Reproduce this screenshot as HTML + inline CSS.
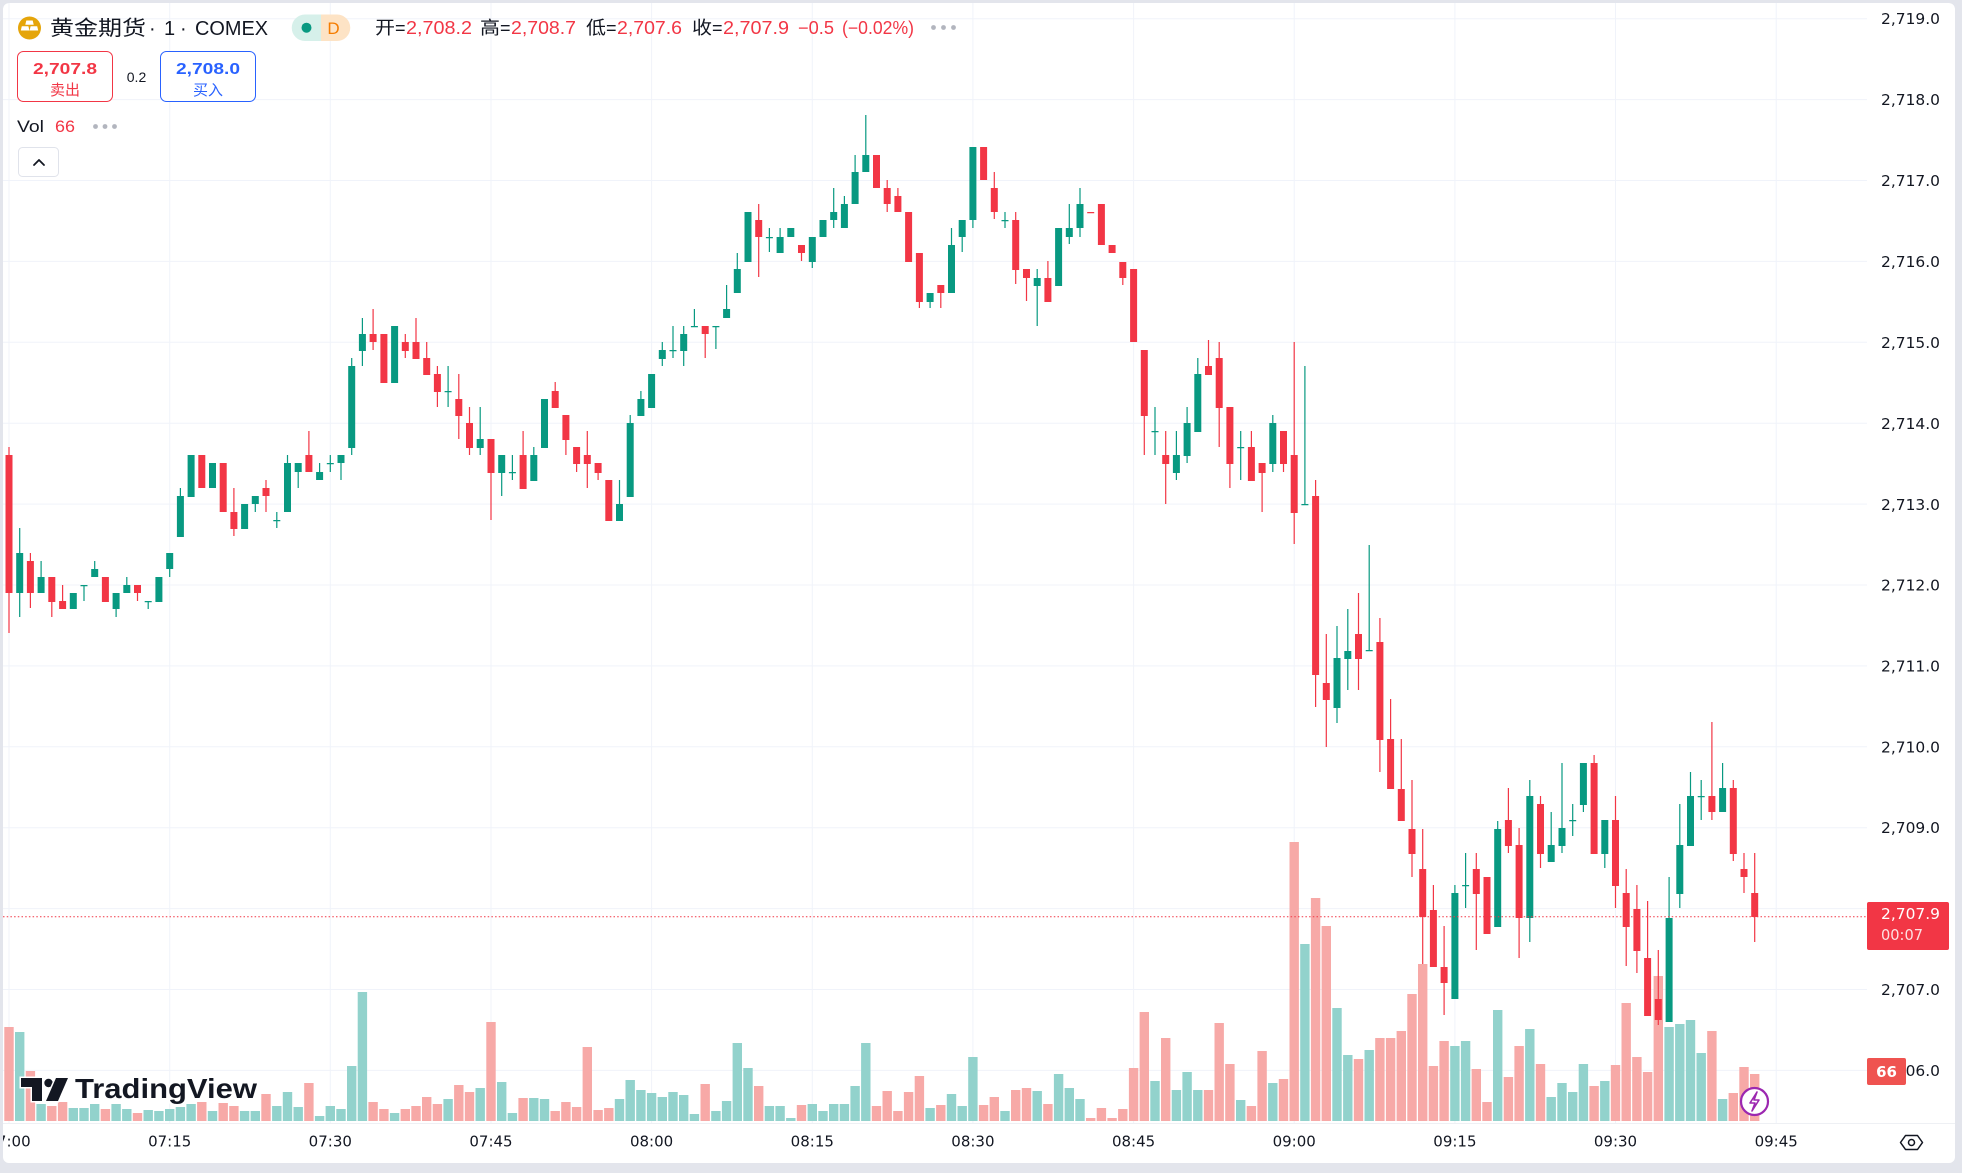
<!DOCTYPE html>
<html><head><meta charset="utf-8"><style>
html,body{margin:0;padding:0;background:#e3e5ec;}
svg{display:block}
</style></head><body>
<svg width="1962" height="1173" viewBox="0 0 1962 1173" xmlns="http://www.w3.org/2000/svg">
<defs><clipPath id="cp"><rect x="3" y="3" width="1864" height="1120"/></clipPath></defs>
<rect x="0" y="0" width="1962" height="1173" fill="#e3e5ec"/>
<rect x="3" y="3" width="1952" height="1160" rx="6" fill="#ffffff"/>
<g stroke="#f0f3fa" stroke-width="1">
<path d="M3 18.7H1867M3 99.6H1867M3 180.5H1867M3 261.4H1867M3 342.3H1867M3 423.2H1867M3 504.1H1867M3 585H1867M3 665.9H1867M3 746.8H1867M3 827.7H1867M3 908.6H1867M3 989.5H1867M3 1070.4H1867"/>
<path d="M9 3V1123M169.7 3V1123M330.3 3V1123M491 3V1123M651.6 3V1123M812.3 3V1123M972.9 3V1123M1133.6 3V1123M1294.2 3V1123M1454.9 3V1123M1615.5 3V1123M1776.2 3V1123"/>
</g>
<g clip-path="url(#cp)">
<path fill="#92d2cc" d="M15 1032h9.4V1121h-9.4zM36.4 1104h9.4V1121h-9.4zM68.6 1108h9.4V1121h-9.4zM79.3 1108h9.4V1121h-9.4zM90 1104h9.4V1121h-9.4zM111.4 1104h9.4V1121h-9.4zM122.1 1109h9.4V1121h-9.4zM143.5 1110h9.4V1121h-9.4zM154.2 1111h9.4V1121h-9.4zM165 1109h9.4V1121h-9.4zM175.7 1107h9.4V1121h-9.4zM186.4 1104h9.4V1121h-9.4zM207.8 1111h9.4V1121h-9.4zM239.9 1111h9.4V1121h-9.4zM250.6 1111h9.4V1121h-9.4zM272.1 1106h9.4V1121h-9.4zM282.8 1092h9.4V1121h-9.4zM293.5 1107h9.4V1121h-9.4zM314.9 1116h9.4V1121h-9.4zM325.6 1106h9.4V1121h-9.4zM336.3 1109h9.4V1121h-9.4zM347 1066h9.4V1121h-9.4zM357.7 992h9.4V1121h-9.4zM389.9 1113h9.4V1121h-9.4zM443.4 1099h9.4V1121h-9.4zM475.5 1088h9.4V1121h-9.4zM497 1082h9.4V1121h-9.4zM507.7 1113h9.4V1121h-9.4zM529.1 1098h9.4V1121h-9.4zM539.8 1099h9.4V1121h-9.4zM614.8 1099h9.4V1121h-9.4zM625.5 1080h9.4V1121h-9.4zM636.2 1090h9.4V1121h-9.4zM646.9 1093h9.4V1121h-9.4zM657.6 1097h9.4V1121h-9.4zM668.3 1092h9.4V1121h-9.4zM679 1095h9.4V1121h-9.4zM689.7 1114h9.4V1121h-9.4zM711.2 1111h9.4V1121h-9.4zM721.9 1101h9.4V1121h-9.4zM732.6 1043h9.4V1121h-9.4zM743.3 1068h9.4V1121h-9.4zM764.7 1106h9.4V1121h-9.4zM775.4 1106h9.4V1121h-9.4zM786.1 1118h9.4V1121h-9.4zM807.6 1104h9.4V1121h-9.4zM818.3 1111h9.4V1121h-9.4zM829 1104h9.4V1121h-9.4zM839.7 1104h9.4V1121h-9.4zM850.4 1086h9.4V1121h-9.4zM861.1 1043h9.4V1121h-9.4zM925.4 1108h9.4V1121h-9.4zM946.8 1094h9.4V1121h-9.4zM957.5 1106h9.4V1121h-9.4zM968.2 1057h9.4V1121h-9.4zM1000.3 1111h9.4V1121h-9.4zM1032.5 1091h9.4V1121h-9.4zM1053.9 1074h9.4V1121h-9.4zM1064.6 1088h9.4V1121h-9.4zM1075.3 1099h9.4V1121h-9.4zM1150.3 1081h9.4V1121h-9.4zM1171.7 1090h9.4V1121h-9.4zM1182.4 1072h9.4V1121h-9.4zM1193.1 1090h9.4V1121h-9.4zM1236 1100h9.4V1121h-9.4zM1268.1 1083h9.4V1121h-9.4zM1300.2 944h9.4V1121h-9.4zM1332.3 1008h9.4V1121h-9.4zM1343.1 1055h9.4V1121h-9.4zM1364.5 1050h9.4V1121h-9.4zM1450.2 1046h9.4V1121h-9.4zM1460.9 1041h9.4V1121h-9.4zM1493 1010h9.4V1121h-9.4zM1525.1 1029h9.4V1121h-9.4zM1546.5 1097h9.4V1121h-9.4zM1557.3 1083h9.4V1121h-9.4zM1568 1092h9.4V1121h-9.4zM1578.7 1064h9.4V1121h-9.4zM1600.1 1081h9.4V1121h-9.4zM1664.4 1027h9.4V1121h-9.4zM1675.1 1024h9.4V1121h-9.4zM1685.8 1020h9.4V1121h-9.4zM1696.5 1053h9.4V1121h-9.4zM1717.9 1099h9.4V1121h-9.4z"/>
<path fill="#f7a9a7" d="M4.3 1027h9.4V1121h-9.4zM25.7 1071h9.4V1121h-9.4zM47.1 1106h9.4V1121h-9.4zM57.9 1102h9.4V1121h-9.4zM100.7 1109h9.4V1121h-9.4zM132.8 1113h9.4V1121h-9.4zM197.1 1102h9.4V1121h-9.4zM218.5 1103h9.4V1121h-9.4zM229.2 1106h9.4V1121h-9.4zM261.3 1094h9.4V1121h-9.4zM304.2 1083h9.4V1121h-9.4zM368.4 1102h9.4V1121h-9.4zM379.2 1109h9.4V1121h-9.4zM400.6 1109h9.4V1121h-9.4zM411.3 1106h9.4V1121h-9.4zM422 1097h9.4V1121h-9.4zM432.7 1104h9.4V1121h-9.4zM454.1 1085h9.4V1121h-9.4zM464.8 1092h9.4V1121h-9.4zM486.3 1022h9.4V1121h-9.4zM518.4 1098h9.4V1121h-9.4zM550.5 1111h9.4V1121h-9.4zM561.2 1102h9.4V1121h-9.4zM571.9 1107h9.4V1121h-9.4zM582.6 1047h9.4V1121h-9.4zM593.4 1110h9.4V1121h-9.4zM604.1 1108h9.4V1121h-9.4zM700.5 1084h9.4V1121h-9.4zM754 1086h9.4V1121h-9.4zM796.8 1105h9.4V1121h-9.4zM871.8 1106h9.4V1121h-9.4zM882.5 1091h9.4V1121h-9.4zM893.2 1111h9.4V1121h-9.4zM903.9 1092h9.4V1121h-9.4zM914.7 1076h9.4V1121h-9.4zM936.1 1105h9.4V1121h-9.4zM978.9 1105h9.4V1121h-9.4zM989.6 1097h9.4V1121h-9.4zM1011 1090h9.4V1121h-9.4zM1021.8 1088h9.4V1121h-9.4zM1043.2 1104h9.4V1121h-9.4zM1086 1118h9.4V1121h-9.4zM1096.7 1108h9.4V1121h-9.4zM1107.4 1118h9.4V1121h-9.4zM1118.1 1109h9.4V1121h-9.4zM1128.9 1068h9.4V1121h-9.4zM1139.6 1012h9.4V1121h-9.4zM1161 1038h9.4V1121h-9.4zM1203.8 1090h9.4V1121h-9.4zM1214.5 1023h9.4V1121h-9.4zM1225.2 1064h9.4V1121h-9.4zM1246.7 1106h9.4V1121h-9.4zM1257.4 1051h9.4V1121h-9.4zM1278.8 1079h9.4V1121h-9.4zM1289.5 842h9.4V1121h-9.4zM1310.9 898h9.4V1121h-9.4zM1321.6 926h9.4V1121h-9.4zM1353.8 1059h9.4V1121h-9.4zM1375.2 1038h9.4V1121h-9.4zM1385.9 1038h9.4V1121h-9.4zM1396.6 1031h9.4V1121h-9.4zM1407.3 994h9.4V1121h-9.4zM1418 964h9.4V1121h-9.4zM1428.7 1066h9.4V1121h-9.4zM1439.4 1041h9.4V1121h-9.4zM1471.6 1069h9.4V1121h-9.4zM1482.3 1102h9.4V1121h-9.4zM1503.7 1077h9.4V1121h-9.4zM1514.4 1046h9.4V1121h-9.4zM1535.8 1064h9.4V1121h-9.4zM1589.4 1086h9.4V1121h-9.4zM1610.8 1065h9.4V1121h-9.4zM1621.5 1003h9.4V1121h-9.4zM1632.2 1057h9.4V1121h-9.4zM1642.9 1072h9.4V1121h-9.4zM1653.6 976h9.4V1121h-9.4zM1707.2 1031h9.4V1121h-9.4zM1728.6 1093h9.4V1121h-9.4zM1739.3 1067h9.4V1121h-9.4zM1750 1074h9.4V1121h-9.4z"/>
<!-- TradingView logo -->
<g>
<path fill="#131722" stroke="#ffffff" stroke-width="3" paint-order="stroke" d="M21 1078h21v23h-10v-14h-11z"/>
<circle cx="48.5" cy="1083" r="4.2" fill="#131722" stroke="#ffffff" stroke-width="3" paint-order="stroke"/>
<path fill="#131722" stroke="#ffffff" stroke-width="3" paint-order="stroke" d="M56 1078h12l-10 23h-12z"/>
<text x="75" y="1098" font-family="Liberation Sans, sans-serif" font-weight="bold" font-size="28" textLength="182" lengthAdjust="spacingAndGlyphs" fill="#131722" stroke="#ffffff" stroke-width="4" paint-order="stroke" stroke-linejoin="round">TradingView</text>
</g>
<!-- green wicks -->
<path fill="none" stroke="#089981" stroke-width="1.2" d="M19.7 528V617M41.1 561V593M73.3 593V609M84 585V601M94.7 561V577M116.1 593V617M126.8 577V593M148.2 601V609M158.9 577V602M169.7 553V577M180.4 488V537M191.1 455V497M212.5 463V488M244.6 504V529M255.3 496V512M276.8 512V528M287.5 455V512M298.2 463V488M319.6 463V480M330.3 455V472M341 455V480M351.7 358V455M362.4 318V366M394.6 326V383M448.1 366V407M480.2 407V455M501.7 455V496M512.4 455V480M533.8 447V481M544.5 399V448M619.5 480V521M630.2 415V497M640.9 391V416M651.6 374V408M662.3 342V366M673 326V358M683.7 326V366M694.4 309V327M715.9 326V349M726.6 285V318M737.3 253V293M748 212V262M769.4 228V252M780.1 228V253M790.8 228V237M812.3 237V268M823 220V237M833.7 188V228M844.4 196V228M855.1 155V204M865.8 115V172M930.1 293V308M951.5 228V293M962.2 220V252M972.9 147V228M1005 212V228M1037.2 269V326M1058.6 228V286M1069.3 204V244M1080 188V237M1155 407V455M1176.4 431V480M1187.1 407V463M1197.8 358V432M1240.7 431V480M1272.8 415V472M1304.9 366V505M1337 626V723M1347.8 609V690M1369.2 545V651M1454.9 885V999M1465.6 853V908M1497.7 821V927M1529.8 780V942M1551.2 812V862M1562 763V853M1572.7 804V836M1583.4 763V812M1604.8 820V868M1669.1 877V1022M1679.8 804V908M1690.5 772V846M1701.2 780V820M1722.6 763V812"/>
<path fill="#089981" d="M16.2 553h7V593h-7zM37.6 577h7V593h-7zM69.8 593h7V609h-7zM80.5 585h7V586.2h-7zM91.2 569h7V577h-7zM112.6 593h7V609h-7zM123.3 585h7V593h-7zM144.7 601h7V602.2h-7zM155.4 577h7V602h-7zM166.2 553h7V569h-7zM176.9 496h7V537h-7zM187.6 455h7V497h-7zM209 463h7V488h-7zM241.1 504h7V529h-7zM251.8 496h7V504h-7zM273.3 520h7V521.2h-7zM284 463h7V512h-7zM294.7 463h7V472h-7zM316.1 472h7V480h-7zM326.8 463h7V464.2h-7zM337.5 455h7V463h-7zM348.2 366h7V448h-7zM358.9 334h7V351h-7zM391.1 326h7V383h-7zM444.6 391h7V392.2h-7zM476.7 439h7V448h-7zM498.2 455h7V473h-7zM508.9 472h7V473.2h-7zM530.3 455h7V481h-7zM541 399h7V448h-7zM616 504h7V521h-7zM626.7 423h7V497h-7zM637.4 399h7V416h-7zM648.1 374h7V408h-7zM658.8 350h7V359h-7zM669.5 350h7V351.2h-7zM680.2 334h7V351h-7zM690.9 326h7V327.2h-7zM712.4 326h7V327.2h-7zM723.1 309h7V318h-7zM733.8 269h7V293h-7zM744.5 212h7V262h-7zM765.9 237h7V238.2h-7zM776.6 237h7V253h-7zM787.3 228h7V237h-7zM808.8 237h7V262h-7zM819.5 220h7V237h-7zM830.2 212h7V220h-7zM840.9 204h7V228h-7zM851.6 172h7V204h-7zM862.3 155h7V172h-7zM926.6 293h7V302h-7zM948 245h7V293h-7zM958.7 220h7V237h-7zM969.4 147h7V220h-7zM1001.5 220h7V221.2h-7zM1033.7 278h7V286h-7zM1055.1 228h7V286h-7zM1065.8 228h7V237h-7zM1076.5 204h7V228h-7zM1151.5 431h7V432.2h-7zM1172.9 455h7V473h-7zM1183.6 423h7V456h-7zM1194.3 374h7V432h-7zM1237.2 447h7V448.2h-7zM1269.3 423h7V464h-7zM1301.4 504h7V505.2h-7zM1333.5 658h7V708h-7zM1344.3 651h7V659h-7zM1365.7 650h7V651.2h-7zM1451.4 893h7V999h-7zM1462.1 885h7V886.2h-7zM1494.2 829h7V927h-7zM1526.3 796h7V918h-7zM1547.7 845h7V862h-7zM1558.5 828h7V846h-7zM1569.2 820h7V821.2h-7zM1579.9 763h7V805h-7zM1601.3 820h7V854h-7zM1665.6 918h7V1022h-7zM1676.3 845h7V894h-7zM1687 796h7V846h-7zM1697.7 796h7V797.2h-7zM1719.1 788h7V812h-7z"/>
<!-- red wicks -->
<path fill="none" stroke="#f23645" stroke-width="1.2" d="M9 447V633M30.4 553V608M51.8 577V617M62.6 585V609M105.4 577V602M137.5 585V601M201.8 455V488M223.2 463V512M233.9 488V536M266 480V512M308.9 431V472M373.1 309V350M383.9 334V383M405.3 334V358M416 318V359M426.7 342V375M437.4 366V407M458.8 374V439M469.5 407V455M491 439V520M523.1 431V489M555.2 382V408M565.9 415V455M576.6 447V472M587.3 431V488M598.1 463V480M608.8 480V521M705.2 326V358M758.7 204V277M801.5 245V261M876.5 155V188M887.2 180V212M897.9 188V212M908.6 212V262M919.4 253V308M940.8 285V308M983.6 147V180M994.3 172V219M1015.7 212V284M1026.5 269V301M1047.9 261V302M1101.4 204V245M1112.1 245V253M1122.8 262V285M1133.6 269V342M1144.3 350V455M1165.7 431V504M1208.5 340V375M1219.2 342V447M1229.9 407V488M1251.4 431V481M1262.1 463V512M1283.5 431V472M1294.2 342V544M1315.6 480V707M1326.3 634V747M1358.5 593V690M1379.9 618V772M1390.6 699V789M1401.3 739V821M1412 780V877M1422.7 829V964M1433.4 885V967M1444.1 926V1015M1476.3 853V950M1487 877V934M1508.4 788V853M1519.1 828V958M1540.5 796V868M1594.1 755V854M1615.5 796V908M1626.2 869V966M1636.9 885V973M1647.6 901V1016M1658.3 950V1025M1711.9 722V820M1733.3 780V861M1744 853V893M1754.7 853V942"/>
<path fill="#f23645" d="M5.5 455h7V593h-7zM26.9 561h7V593h-7zM48.3 577h7V602h-7zM59.1 601h7V609h-7zM101.9 577h7V602h-7zM134 585h7V593h-7zM198.3 455h7V488h-7zM219.7 463h7V512h-7zM230.4 512h7V529h-7zM262.5 488h7V496h-7zM305.4 455h7V472h-7zM369.6 334h7V342h-7zM380.4 334h7V383h-7zM401.8 342h7V351h-7zM412.5 342h7V359h-7zM423.2 358h7V375h-7zM433.9 374h7V392h-7zM455.3 399h7V416h-7zM466 423h7V448h-7zM487.5 439h7V473h-7zM519.6 455h7V489h-7zM551.7 391h7V408h-7zM562.4 415h7V440h-7zM573.1 447h7V464h-7zM583.8 455h7V464h-7zM594.6 463h7V473h-7zM605.3 480h7V521h-7zM701.7 326h7V334h-7zM755.2 220h7V237h-7zM798 245h7V253h-7zM873 155h7V188h-7zM883.7 188h7V204h-7zM894.4 196h7V212h-7zM905.1 212h7V262h-7zM915.9 253h7V302h-7zM937.3 285h7V293h-7zM980.1 147h7V180h-7zM990.8 188h7V212h-7zM1012.2 220h7V270h-7zM1023 269h7V278h-7zM1044.4 278h7V302h-7zM1087.2 212h7V213.2h-7zM1097.9 204h7V245h-7zM1108.6 245h7V253h-7zM1119.3 262h7V278h-7zM1130.1 269h7V342h-7zM1140.8 350h7V416h-7zM1162.2 455h7V464h-7zM1205 366h7V375h-7zM1215.7 358h7V408h-7zM1226.4 407h7V464h-7zM1247.9 447h7V481h-7zM1258.6 463h7V473h-7zM1280 431h7V464h-7zM1290.7 455h7V513h-7zM1312.1 496h7V675h-7zM1322.8 683h7V700h-7zM1355 634h7V659h-7zM1376.4 642h7V740h-7zM1387.1 739h7V789h-7zM1397.8 789h7V821h-7zM1408.5 829h7V854h-7zM1419.2 869h7V917h-7zM1429.9 910h7V967h-7zM1440.6 967h7V983h-7zM1472.8 869h7V894h-7zM1483.5 877h7V934h-7zM1504.9 820h7V846h-7zM1515.6 845h7V918h-7zM1537 804h7V854h-7zM1590.6 763h7V854h-7zM1612 820h7V886h-7zM1622.7 893h7V927h-7zM1633.4 909h7V951h-7zM1644.1 958h7V1016h-7zM1654.8 999h7V1020h-7zM1708.4 796h7V812h-7zM1729.8 788h7V854h-7zM1740.5 869h7V877h-7zM1751.2 893h7V917h-7z"/>
<!-- current price line -->
<path d="M3 916.7H1867" stroke="#f23645" stroke-width="1" stroke-dasharray="1.5 2.2"/>
<!-- lightning icon -->
<circle cx="1754.5" cy="1101.5" r="13.5" fill="#ffffff" stroke="#9c27b0" stroke-width="2.2"/>
<path d="M1757 1092l-7 11h5l-3 8 7-11h-5z" fill="none" stroke="#9c27b0" stroke-width="1.6" stroke-linejoin="round"/>
</g>
<!-- header -->
<g font-family="Liberation Sans, Noto Sans CJK SC, sans-serif">
<circle cx="29.5" cy="28" r="11.5" fill="#e5a50a"/>
<path fill="#ffffff" d="M26.3 20.5h6.4l1 4.2h-8.4zM21.8 26.2h6.6l1 4.3h-8.6zM30.6 26.2h6.6l1 4.3h-8.6z"/>
<text x="50" y="35" font-size="20.5" fill="#131722" textLength="96" lengthAdjust="spacingAndGlyphs">黄金期货</text>
<text x="149" y="35" font-size="20" fill="#131722">·</text>
<text x="164" y="35" font-size="20" fill="#131722">1</text>
<text x="180" y="35" font-size="20" fill="#131722">·</text>
<text x="195" y="35" font-size="20" fill="#131722" textLength="73" lengthAdjust="spacingAndGlyphs">COMEX</text>
<path d="M305 14.5h16v26.5h-16a13.25 13.25 0 0 1 0-26.5z" fill="#d6f0ea"/>
<path d="M321 14.5h16a13.25 13.25 0 0 1 0 26.5h-16z" fill="#fde3c5"/>
<circle cx="306.5" cy="27.7" r="5" fill="#089981"/>
<text x="333.5" y="34" font-size="17" fill="#f57c00" text-anchor="middle">D</text>
<g font-size="18">
<text x="375" y="34" fill="#131722" textLength="20" lengthAdjust="spacingAndGlyphs">开</text>
<text x="395" y="34" fill="#131722">=</text>
<text x="406" y="34" fill="#f23645" textLength="66" lengthAdjust="spacingAndGlyphs">2,708.2</text>
<text x="480" y="34" fill="#131722" textLength="20" lengthAdjust="spacingAndGlyphs">高</text>
<text x="500" y="34" fill="#131722">=</text>
<text x="511" y="34" fill="#f23645" textLength="65" lengthAdjust="spacingAndGlyphs">2,708.7</text>
<text x="586" y="34" fill="#131722" textLength="20" lengthAdjust="spacingAndGlyphs">低</text>
<text x="606" y="34" fill="#131722">=</text>
<text x="617" y="34" fill="#f23645" textLength="65" lengthAdjust="spacingAndGlyphs">2,707.6</text>
<text x="692" y="34" fill="#131722" textLength="20" lengthAdjust="spacingAndGlyphs">收</text>
<text x="712" y="34" fill="#131722">=</text>
<text x="723" y="34" fill="#f23645" textLength="66" lengthAdjust="spacingAndGlyphs">2,707.9</text>
<text x="798" y="34" fill="#f23645" textLength="36" lengthAdjust="spacingAndGlyphs">−0.5</text>
<text x="842" y="34" fill="#f23645" textLength="72" lengthAdjust="spacingAndGlyphs">(−0.02%)</text>
</g>
<g fill="#b2b5be"><circle cx="933.5" cy="27.5" r="2.4"/><circle cx="943.5" cy="27.5" r="2.4"/><circle cx="953.5" cy="27.5" r="2.4"/></g>
<rect x="17.5" y="51.5" width="95" height="50" rx="6" fill="#ffffff" stroke="#f23645" stroke-width="1"/>
<text x="65" y="74" font-size="16" font-weight="bold" fill="#f23645" text-anchor="middle" textLength="64" lengthAdjust="spacingAndGlyphs">2,707.8</text>
<text x="65" y="95" font-size="15" fill="#f23645" text-anchor="middle">卖出</text>
<text x="136.5" y="82" font-size="14" fill="#131722" text-anchor="middle">0.2</text>
<rect x="160.5" y="51.5" width="95" height="50" rx="6" fill="#ffffff" stroke="#2962ff" stroke-width="1"/>
<text x="208" y="74" font-size="16" font-weight="bold" fill="#2962ff" text-anchor="middle" textLength="64" lengthAdjust="spacingAndGlyphs">2,708.0</text>
<text x="208" y="95" font-size="15" fill="#2962ff" text-anchor="middle">买入</text>
<text x="17" y="132" font-size="17" fill="#131722" textLength="27" lengthAdjust="spacingAndGlyphs">Vol</text>
<text x="55" y="132" font-size="17" fill="#f23645" textLength="20" lengthAdjust="spacingAndGlyphs">66</text>
<g fill="#b2b5be"><circle cx="95.5" cy="126.5" r="2.4"/><circle cx="105" cy="126.5" r="2.4"/><circle cx="114.5" cy="126.5" r="2.4"/></g>
<rect x="18.5" y="147.5" width="40" height="29" rx="4" fill="#ffffff" stroke="#e0e3eb" stroke-width="1"/>
<path d="M34 165l5-5 5 5" fill="none" stroke="#131722" stroke-width="1.8" stroke-linecap="round" stroke-linejoin="round"/>
</g>
<!-- price axis -->
<g font-family="DejaVu Sans, Liberation Sans, sans-serif" font-size="15" fill="#131722">
<text x="1881" y="24" textLength="59" lengthAdjust="spacingAndGlyphs">2,719.0</text>
<text x="1881" y="105" textLength="59" lengthAdjust="spacingAndGlyphs">2,718.0</text>
<text x="1881" y="186" textLength="59" lengthAdjust="spacingAndGlyphs">2,717.0</text>
<text x="1881" y="267" textLength="59" lengthAdjust="spacingAndGlyphs">2,716.0</text>
<text x="1881" y="348" textLength="59" lengthAdjust="spacingAndGlyphs">2,715.0</text>
<text x="1881" y="429" textLength="59" lengthAdjust="spacingAndGlyphs">2,714.0</text>
<text x="1881" y="510" textLength="59" lengthAdjust="spacingAndGlyphs">2,713.0</text>
<text x="1881" y="590.5" textLength="59" lengthAdjust="spacingAndGlyphs">2,712.0</text>
<text x="1881" y="671.5" textLength="59" lengthAdjust="spacingAndGlyphs">2,711.0</text>
<text x="1881" y="752.5" textLength="59" lengthAdjust="spacingAndGlyphs">2,710.0</text>
<text x="1881" y="833" textLength="59" lengthAdjust="spacingAndGlyphs">2,709.0</text>
<text x="1881" y="914" textLength="59" lengthAdjust="spacingAndGlyphs">2,708.0</text>
<text x="1881" y="995" textLength="59" lengthAdjust="spacingAndGlyphs">2,707.0</text>
<text x="1881" y="1076" textLength="59" lengthAdjust="spacingAndGlyphs">2,706.0</text>
</g>
<rect x="1867" y="902" width="82" height="48" rx="2" fill="#f23645"/>
<g font-family="DejaVu Sans, Liberation Sans, sans-serif" font-size="15">
<text x="1881" y="919" fill="#ffffff" textLength="59" lengthAdjust="spacingAndGlyphs">2,707.9</text>
<text x="1881" y="940" fill="#fde0e2" textLength="42" lengthAdjust="spacingAndGlyphs">00:07</text>
</g>
<rect x="1867" y="1058" width="39" height="27" rx="2" fill="#ef5350"/>
<text x="1886.5" y="1077" font-family="DejaVu Sans, Liberation Sans, sans-serif" font-size="15" font-weight="bold" fill="#ffffff" text-anchor="middle">66</text>
<!-- time axis -->
<path d="M3 1123.5H1955" stroke="#eef0f4" stroke-width="1"/>
<g font-family="DejaVu Sans, Liberation Sans, sans-serif" font-size="15" fill="#131722" text-anchor="middle">
<text x="9" y="1146.5">07:00</text>
<text x="169.7" y="1146.5">07:15</text>
<text x="330.3" y="1146.5">07:30</text>
<text x="491" y="1146.5">07:45</text>
<text x="651.6" y="1146.5">08:00</text>
<text x="812.3" y="1146.5">08:15</text>
<text x="972.9" y="1146.5">08:30</text>
<text x="1133.6" y="1146.5">08:45</text>
<text x="1294.2" y="1146.5">09:00</text>
<text x="1454.9" y="1146.5">09:15</text>
<text x="1615.5" y="1146.5">09:30</text>
<text x="1776.2" y="1146.5">09:45</text>
</g>
<path d="M1900.5 1142.5l5-7h12l5 7-5 7h-12z" fill="none" stroke="#131722" stroke-width="1.5" stroke-linejoin="round"/>
<circle cx="1911.5" cy="1142.5" r="3" fill="none" stroke="#131722" stroke-width="1.5"/>
<!-- outer frame -->
<path fill="#e3e5ec" fill-rule="evenodd" d="M0 0H1962V1173H0zM3 9a6 6 0 0 1 6-6H1949a6 6 0 0 1 6 6V1163H3z"/>
</svg>
</body></html>
